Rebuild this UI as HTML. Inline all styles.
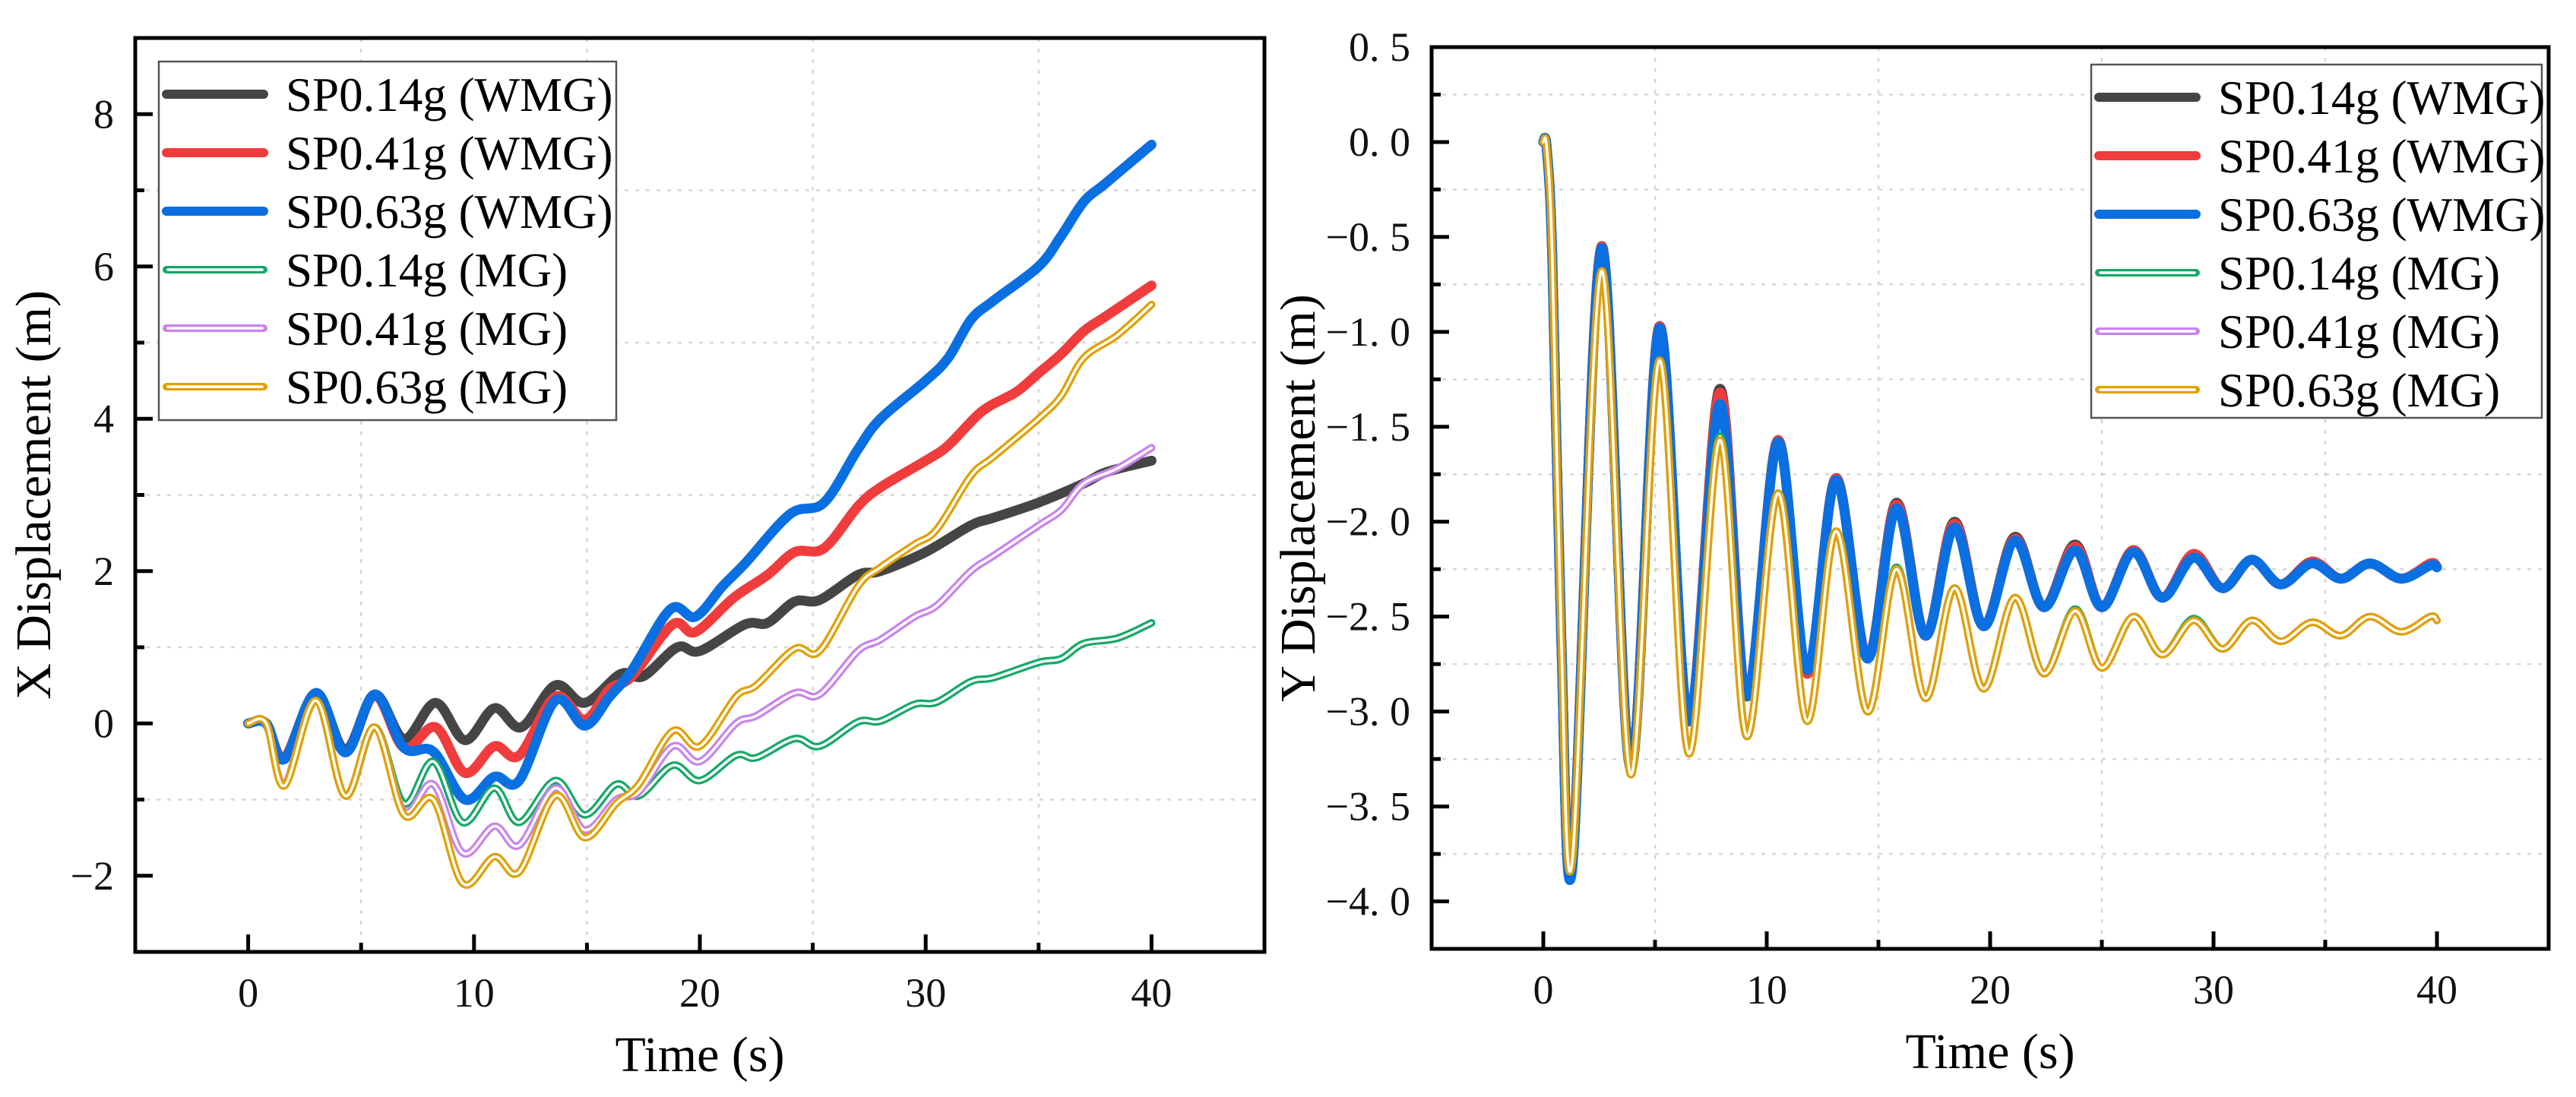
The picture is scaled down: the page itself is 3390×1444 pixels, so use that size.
<!DOCTYPE html>
<html><head><meta charset="utf-8"><style>
html,body{margin:0;padding:0;background:#fff;}
svg{display:block;font-family:"Liberation Serif",serif;}
</style></head><body>
<svg id="fig" width="3390" height="1444" viewBox="0 0 3390 1444" xmlns="http://www.w3.org/2000/svg"></svg>
<script>
// ---- Left chart data: X displacement ----
const xT_k  = [0,0.8,1.6,3.0,4.3,5.6,6.9,8.3,9.6,10.9,12.1,13.6,14.9,16.5,17.5,19,20,22,23,24.2,25.3,27,28,30,32,33,35,37,38,40];
const xBlack= [0,0,-0.45,0.4,-0.35,0.38,-0.2,0.27,-0.22,0.2,-0.05,0.5,0.27,0.65,0.62,1.0,0.95,1.3,1.32,1.6,1.62,1.95,2.0,2.25,2.6,2.7,2.9,3.15,3.3,3.45];
const xT_r  = [0,0.8,1.6,3.0,4.3,5.6,6.9,8.3,9.6,10.9,12.0,13.6,14.9,16,17,18.8,19.8,21.5,23,24.2,25.5,27,28,30,31,32.5,34,35,36,37,38,40];
const xRed  = [0,0,-0.45,0.38,-0.38,0.37,-0.32,-0.05,-0.65,-0.3,-0.42,0.35,0.05,0.45,0.62,1.3,1.2,1.65,1.95,2.25,2.3,2.85,3.1,3.45,3.65,4.1,4.35,4.6,4.85,5.15,5.35,5.75];
const xT_b  = [0,0.8,1.6,3.0,4.3,5.6,6.9,8.2,9.6,10.9,12.0,13.6,14.9,16,17,18.7,19.8,21,22,24,25.5,27,28,30,31,32,33,35,36,37,38,40];
const xBlue = [0,0,-0.47,0.4,-0.38,0.38,-0.32,-0.37,-1.0,-0.7,-0.75,0.3,-0.03,0.35,0.7,1.5,1.4,1.8,2.1,2.75,2.9,3.6,4.0,4.5,4.8,5.3,5.55,6.0,6.4,6.85,7.1,7.6];
const xT_m  = [0,0.8,1.6,3.0,4.3,5.6,6.9,8.2,9.5,10.9,12.0,13.6,14.9,16.3,17.3,18.8,20,21.6,22.5,24.2,25.3,27,28,29.5,30.5,32,33,35,36,37,38.5,40];
const xGreen= [0,0,-0.8,0.3,-0.95,-0.05,-1.05,-0.5,-1.3,-0.85,-1.3,-0.75,-1.2,-0.8,-0.95,-0.55,-0.75,-0.42,-0.45,-0.2,-0.3,0.02,0.03,0.25,0.28,0.55,0.6,0.8,0.85,1.05,1.12,1.32];
const xPurple=[0,0,-0.8,0.3,-0.95,-0.05,-1.15,-0.8,-1.7,-1.35,-1.6,-0.85,-1.4,-1.0,-0.9,-0.3,-0.5,0.0,0.1,0.4,0.38,0.95,1.1,1.4,1.55,2.0,2.2,2.6,2.8,3.15,3.35,3.62];
const xYellow=[0,0,-0.82,0.3,-0.95,-0.05,-1.2,-1.0,-2.1,-1.75,-1.95,-0.95,-1.5,-1.05,-0.8,-0.1,-0.3,0.35,0.5,0.98,0.95,1.8,2.05,2.35,2.55,3.25,3.5,4.0,4.3,4.8,5.1,5.5];
// ---- Right chart data: Y displacement ----
const yT     = [0,0.15,0.4,0.8,1.3,2.6,3.9,5.2,6.5,7.9,9.1,10.5,11.8,13.1,14.5,15.8,17.1,18.4,19.7,21.1,22.4,23.8,25.0,26.4,27.7,29.1,30.4,31.7,33.0,34.4,35.7,37.0,38.4,39.7,40];
const yBlack = [0,-0.03,-0.6,-2.6,-3.8,-0.55,-3.3,-0.97,-3.05,-1.3,-2.92,-1.57,-2.8,-1.77,-2.72,-1.9,-2.6,-2.0,-2.55,-2.08,-2.45,-2.12,-2.45,-2.15,-2.4,-2.17,-2.35,-2.2,-2.33,-2.21,-2.3,-2.22,-2.3,-2.22,-2.24];
const yRed   = [0,-0.03,-0.6,-2.6,-3.8,-0.55,-3.3,-0.97,-3.05,-1.32,-2.92,-1.57,-2.8,-1.77,-2.72,-1.91,-2.6,-2.01,-2.55,-2.09,-2.45,-2.13,-2.45,-2.15,-2.4,-2.17,-2.35,-2.2,-2.33,-2.21,-2.3,-2.22,-2.3,-2.22,-2.24];
const yBlue  = [0,-0.03,-0.6,-2.6,-3.82,-0.56,-3.3,-0.98,-3.05,-1.38,-2.92,-1.58,-2.78,-1.78,-2.72,-1.93,-2.6,-2.03,-2.55,-2.1,-2.45,-2.15,-2.45,-2.16,-2.4,-2.19,-2.35,-2.2,-2.33,-2.22,-2.3,-2.22,-2.3,-2.23,-2.24];
const yGreen = [0,-0.03,-0.6,-2.6,-3.78,-0.68,-3.33,-1.15,-3.22,-1.55,-3.13,-1.85,-3.05,-2.05,-3.0,-2.24,-2.93,-2.35,-2.88,-2.4,-2.8,-2.46,-2.77,-2.5,-2.7,-2.51,-2.67,-2.52,-2.63,-2.53,-2.6,-2.5,-2.58,-2.5,-2.52];
const yPurple= [0,-0.03,-0.6,-2.6,-3.78,-0.68,-3.33,-1.15,-3.22,-1.57,-3.13,-1.85,-3.05,-2.05,-3.0,-2.25,-2.93,-2.35,-2.88,-2.4,-2.8,-2.47,-2.77,-2.5,-2.7,-2.52,-2.67,-2.52,-2.63,-2.53,-2.6,-2.5,-2.58,-2.5,-2.52];
const yYellow= [0,-0.03,-0.6,-2.6,-3.78,-0.68,-3.33,-1.15,-3.22,-1.57,-3.13,-1.85,-3.05,-2.05,-3.0,-2.25,-2.93,-2.35,-2.88,-2.4,-2.8,-2.47,-2.77,-2.5,-2.7,-2.52,-2.67,-2.52,-2.63,-2.53,-2.6,-2.5,-2.58,-2.5,-2.52];
// ticks
const xTicks = [0,10,20,30,40];
const xMinor = [5,15,25,35];
const leftYTicks = [-2,0,2,4,6,8];
const leftYMinor = [-1,1,3,5,7];
const rightYTicks = [0.5,0,-0.5,-1,-1.5,-2,-2.5,-3,-3.5,-4];
const rightYMinor = [0.25,-0.25,-0.75,-1.25,-1.75,-2.25,-2.75,-3.25,-3.75];
const legendLabels = ["SP0.14g (WMG)","SP0.41g (WMG)","SP0.63g (WMG)","SP0.14g (MG)","SP0.41g (MG)","SP0.63g (MG)"];
const colors = ["#454545","#f03c3c","#0a6fe0","#15a866","#c884ea","#e0a000"];

const NS="http://www.w3.org/2000/svg";
const svg=document.getElementById('fig');
function mk(tag,attrs,parent){const e=document.createElementNS(NS,tag);for(const k in attrs)e.setAttribute(k,attrs[k]);(parent||svg).appendChild(e);return e;}

function pathFrom(xs,ys,sx,sy){
  const P=xs.map((x,i)=>[sx(x),sy(ys[i])]);
  let d=`M${P[0][0]},${P[0][1]}`;
  for(let i=0;i<P.length-1;i++){
    const p0=P[Math.max(0,i-1)],p1=P[i],p2=P[i+1],p3=P[Math.min(P.length-1,i+2)];
    const c1=[p1[0]+(p2[0]-p0[0])/6,p1[1]+(p2[1]-p0[1])/6];
    const c2=[p2[0]-(p3[0]-p1[0])/6,p2[1]-(p3[1]-p1[1])/6];
    d+=` C${c1[0]},${c1[1]} ${c2[0]},${c2[1]} ${p2[0]},${p2[1]}`;
  }
  return d;
}

function chart(o){
  const g=mk('g',{});
  
  
  const sx=v=>o.x0+(v-o.xmin)/(o.xmax-o.xmin)*(o.x1-o.x0);
  const sy=v=>o.y1-(v-o.ymin)/(o.ymax-o.ymin)*(o.y1-o.y0);
  o.xMinor.forEach(v=>{const l=mk('line',{x1:sx(v),x2:sx(v),y1:o.y0,y2:o.y1,stroke:'#d6d6d6','stroke-width':2.5,'stroke-dasharray':'5 9'},g);
    });
  o.yMinor.forEach(v=>{const l=mk('line',{x1:o.x0,x2:o.x1,y1:sy(v),y2:sy(v),stroke:'#d6d6d6','stroke-width':2.5,'stroke-dasharray':'5 9'},g);
    });
  const clipId=o.name+'-clip';
  const cp=mk('clipPath',{id:clipId},g);mk('rect',{x:o.x0,y:o.y0,width:o.x1-o.x0,height:o.y1-o.y0},cp);
  const sg=mk('g',{'clip-path':`url(#${clipId})`},g);
  o.series.forEach((s,i)=>{
    const d=pathFrom(s.t,s.v,sx,sy);
    if(i<3){
      const p=mk('path',{d,fill:'none',stroke:colors[i],'stroke-width':13,'stroke-linecap':'round','stroke-linejoin':'round'},sg);
      
      
    } else {
      const p=mk('path',{d,fill:'none',stroke:colors[i],'stroke-width':10,'stroke-linecap':'round','stroke-linejoin':'round'},sg);
      
      
      const w=mk('path',{d,fill:'none',stroke:'#fff','stroke-width':3.5,'stroke-linecap':'round','stroke-linejoin':'round'},sg);
      
      
    }
  });
  const fr=mk('rect',{x:o.x0,y:o.y0,width:o.x1-o.x0,height:o.y1-o.y0,fill:'none',stroke:'#000','stroke-width':5},g);
  
  o.xTicks.forEach(v=>{mk('line',{x1:sx(v),x2:sx(v),y1:o.y1,y2:o.y1-23,stroke:'#000','stroke-width':5},g);
    const t=mk('text',{x:sx(v),y:o.y1+72,'text-anchor':'middle','font-size':54,fill:'#111'},g);t.textContent=v;
    });
  o.xMinor.forEach(v=>mk('line',{x1:sx(v),x2:sx(v),y1:o.y1,y2:o.y1-12,stroke:'#000','stroke-width':5},g));
  o.yTicks.forEach(v=>{mk('line',{x1:o.x0,x2:o.x0+23,y1:sy(v),y2:sy(v),stroke:'#000','stroke-width':5},g);
    const t=mk('text',{x:o.x0-28,y:sy(v)+18,'text-anchor':'end','font-size':54,fill:'#111'},g);t.textContent=o.fmt(v);
    });
  o.yMinor.forEach(v=>mk('line',{x1:o.x0,x2:o.x0+12,y1:sy(v),y2:sy(v),stroke:'#000','stroke-width':5},g));
  const xt=mk('text',{x:(o.x0+o.x1)/2,y:o.y1+157,'text-anchor':'middle','font-size':66,fill:'#000'},g);xt.textContent='Time (s)';
  
  const yt=mk('text',{x:0,y:0,'text-anchor':'middle','font-size':66,fill:'#000',transform:`translate(${o.ytx},${(o.y0+o.y1)/2}) rotate(-90)`},g);yt.textContent=o.ytitle;
  
  const lg=mk('g',{},g);
  mk('rect',{x:o.lx,y:o.ly,width:o.lw,height:o.lh,fill:'#fff',stroke:'#555','stroke-width':2.5},lg);
  legendLabels.forEach((lab,i)=>{
    const y=o.ly+43+i*77;
    const e=mk('g',{},lg);
    if(i<3) mk('line',{x1:o.lx+10,x2:o.lx+138,y1:y,y2:y,stroke:colors[i],'stroke-width':12,'stroke-linecap':'round'},e);
    else {mk('line',{x1:o.lx+10,x2:o.lx+138,y1:y,y2:y,stroke:colors[i],'stroke-width':10,'stroke-linecap':'round'},e);
          mk('line',{x1:o.lx+12,x2:o.lx+136,y1:y,y2:y,stroke:'#fff','stroke-width':3.5,'stroke-linecap':'round'},e);}
    const t=mk('text',{x:o.lx+167,y:y+22,'font-size':63,fill:'#000'},e);t.textContent=lab;
  });
}

const minus=v=>String(v).replace('-','\u2212');
chart({name:'x-displacement-chart',x0:178,x1:1664,y0:50,y1:1253,xmin:-5,xmax:45,ymin:-3,ymax:9,
  xTicks,xMinor,yTicks:leftYTicks,yMinor:leftYMinor,fmt:minus,ytitle:'X Displacement (m)',ytx:66,
  lx:209,ly:81,lw:602,lh:472,
  series:[{t:xT_k,v:xBlack},{t:xT_r,v:xRed},{t:xT_b,v:xBlue},{t:xT_m,v:xGreen},{t:xT_m,v:xPurple},{t:xT_m,v:xYellow}]});
chart({name:'y-displacement-chart',x0:1884,x1:3354,y0:62,y1:1249,xmin:-5,xmax:45,ymin:-4.25,ymax:0.5,
  xTicks,xMinor,yTicks:rightYTicks,yMinor:rightYMinor,fmt:v=>minus(v.toFixed(1)).replace('.', '. '),ytitle:'Y Displacement (m)',ytx:1730,
  lx:2752,ly:85,lw:593,lh:465,
  series:[{t:yT,v:yBlack},{t:yT,v:yRed},{t:yT,v:yBlue},{t:yT,v:yGreen},{t:yT,v:yPurple},{t:yT,v:yYellow}]});
</script>
</body></html>
